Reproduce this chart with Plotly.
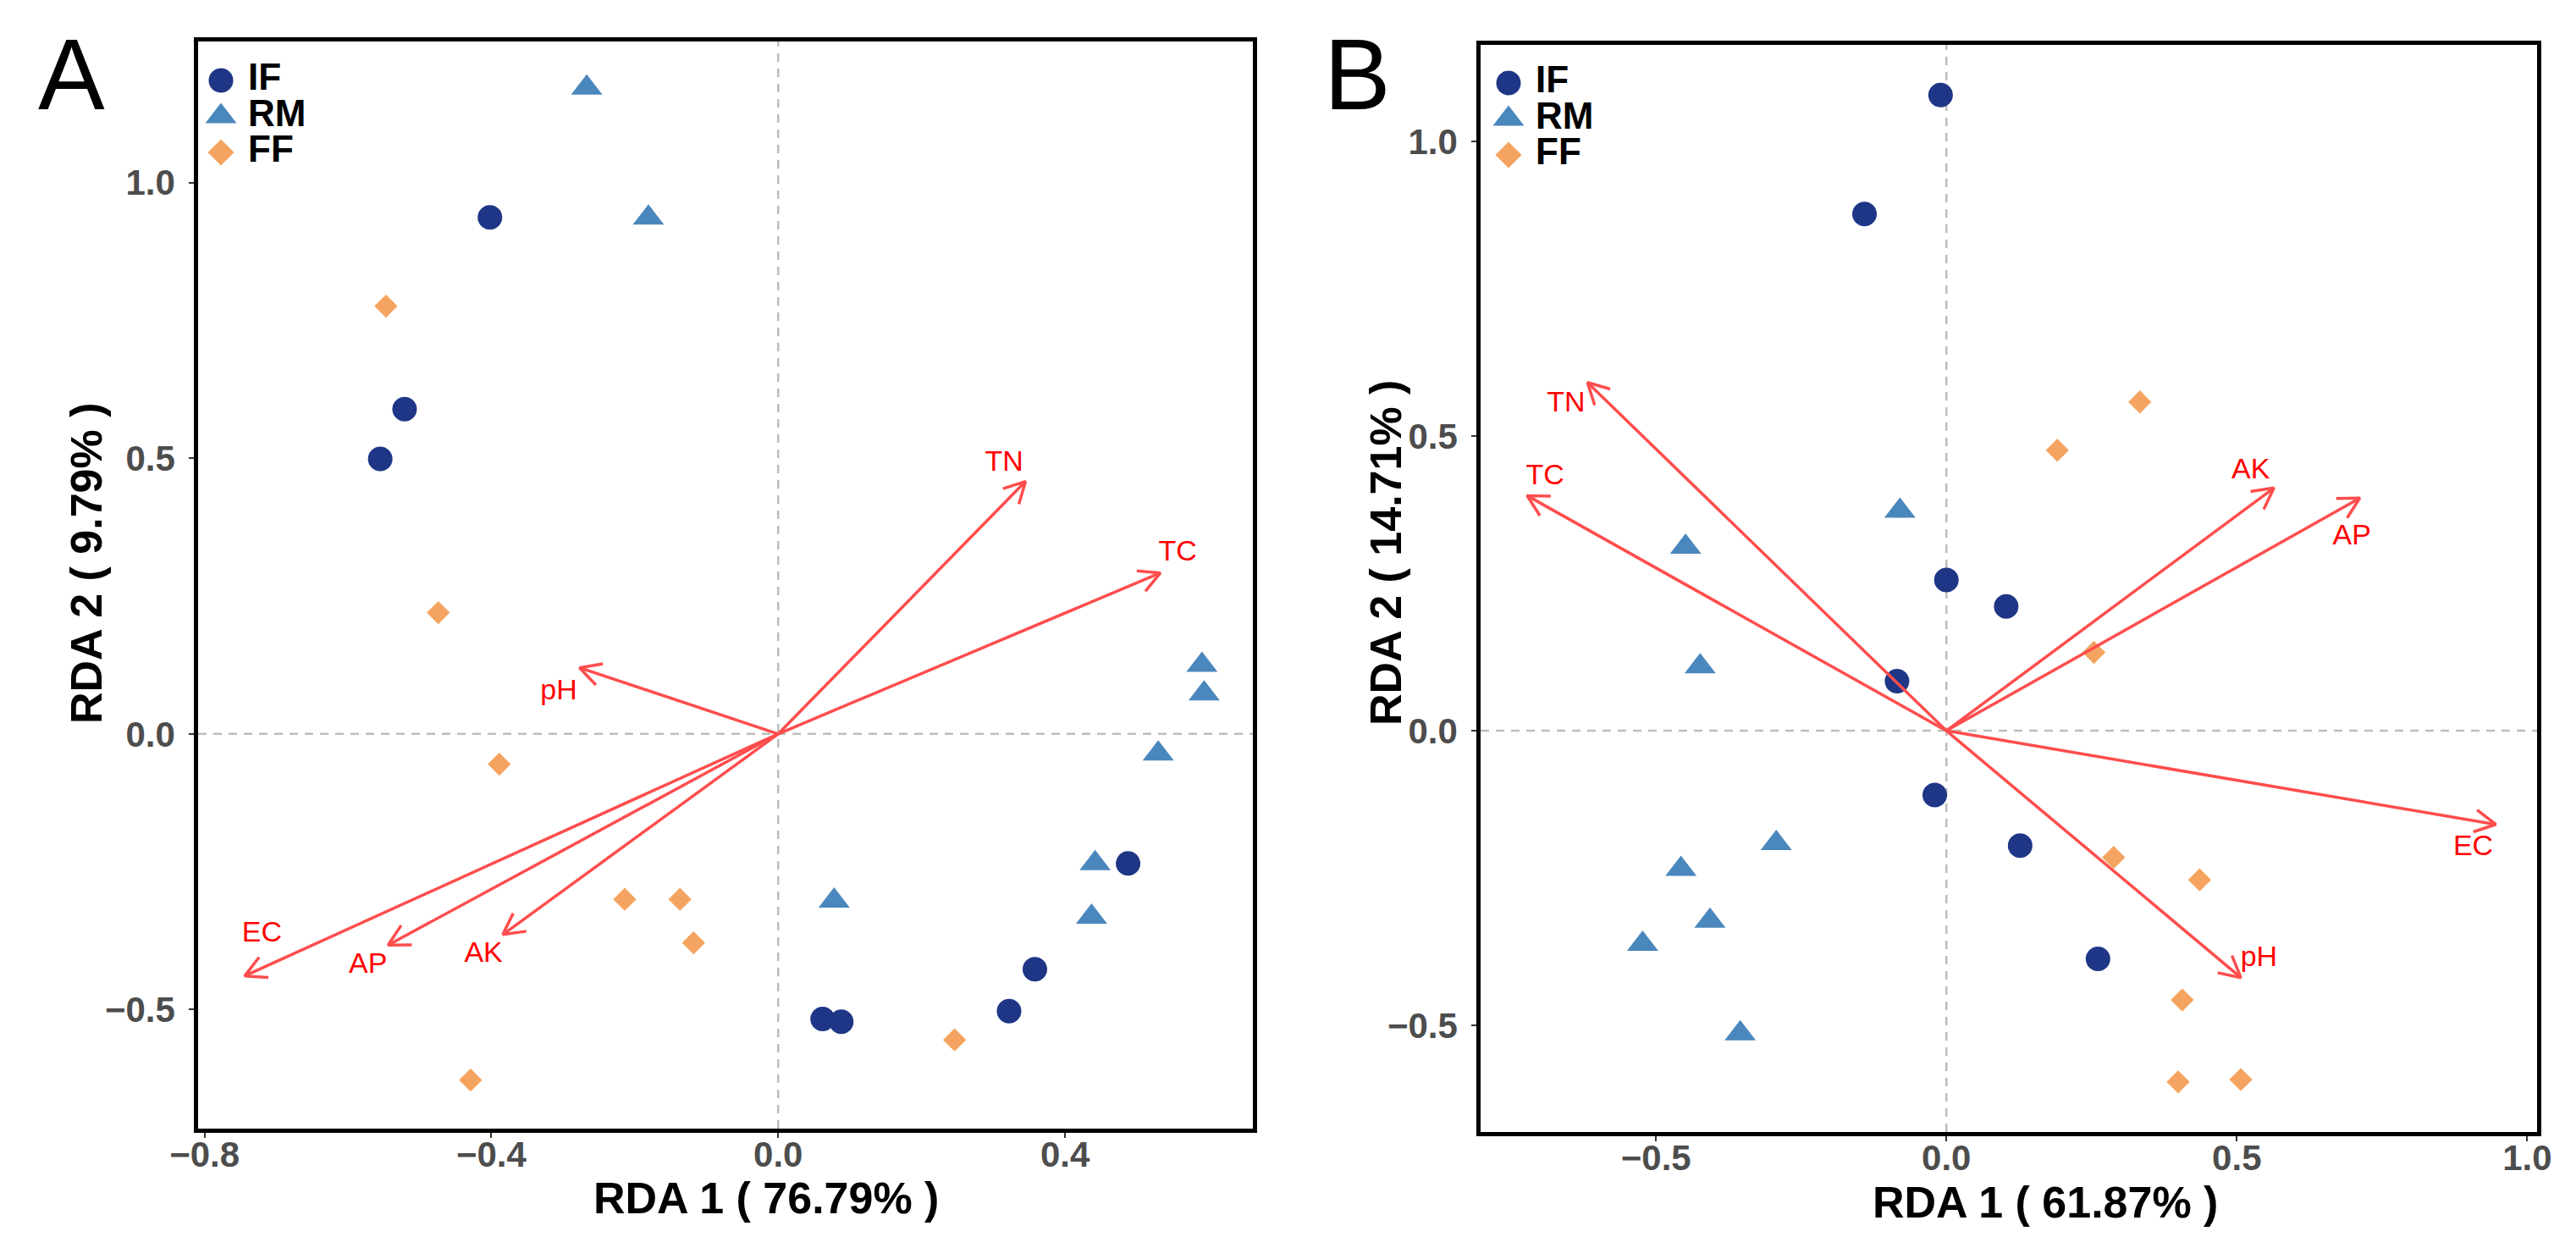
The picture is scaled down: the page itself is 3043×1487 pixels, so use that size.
import plotly.graph_objects as go
import numpy as np

W, H = 3043, 1487

# groups and their look
groups = ["IF", "RM", "FF"]
colors = {"IF": "#1F3687", "RM": "#4A87BD", "FF": "#F4A460"}
symbols = {"IF": "circle", "RM": "triangle-up", "FF": "diamond"}
msize = {"IF": 29, "RM": 32, "FF": 21}

# ---- panel A sample scores
a_if_x = [-0.402, -0.521, -0.555, 0.488, 0.358, 0.322, 0.062, 0.088]
a_if_y = [0.937, 0.589, 0.499, -0.235, -0.427, -0.503, -0.517, -0.522]
a_rm_x = [-0.267, -0.181, 0.591, 0.594, 0.530, 0.442, 0.437, 0.078]
a_rm_y = [1.172, 0.936, 0.125, 0.073, -0.036, -0.235, -0.332, -0.303]
a_ff_x = [-0.547, -0.474, -0.389, -0.214, -0.137, -0.118, -0.429, 0.246]
a_ff_y = [0.776, 0.220, -0.055, -0.300, -0.300, -0.379, -0.628, -0.555]

# panel A environmental vectors (arrow tips) and label spots
a_env = ["TN", "TC", "pH", "EC", "AP", "AK"]
a_env_x = [0.345, 0.533, -0.277, -0.744, -0.544, -0.384]
a_env_y = [0.458, 0.292, 0.120, -0.439, -0.383, -0.364]
a_lab_x = [0.315, 0.557, -0.306, -0.720, -0.572, -0.411]
a_lab_y = [0.491, 0.327, 0.076, -0.364, -0.420, -0.400]

# ---- panel B sample scores
b_if_x = [-0.010, -0.141, 0.000, 0.103, -0.085, -0.020, 0.127, 0.261]
b_if_y = [1.079, 0.877, 0.256, 0.211, 0.084, -0.109, -0.195, -0.387]
b_rm_x = [-0.080, -0.449, -0.424, -0.293, -0.457, -0.407, -0.523, -0.355]
b_rm_y = [0.373, 0.312, 0.109, -0.191, -0.235, -0.323, -0.362, -0.514]
b_ff_x = [0.333, 0.191, 0.254, 0.288, 0.436, 0.406, 0.399, 0.507]
b_ff_y = [0.558, 0.476, 0.133, -0.215, -0.253, -0.457, -0.596, -0.592]

b_env = ["TN", "TC", "AK", "AP", "EC", "pH"]
b_env_x = [-0.618, -0.722, 0.564, 0.712, 0.946, 0.507]
b_env_y = [0.591, 0.399, 0.412, 0.395, -0.159, -0.419]
b_lab_x = [-0.655, -0.691, 0.524, 0.698, 0.907, 0.538]
b_lab_y = [0.554, 0.430, 0.441, 0.329, -0.199, -0.387]

a_xtitle = "RDA 1 ( 76.79% )"
a_ytitle = "RDA 2 ( 9.79% )"
b_xtitle = "RDA 1 ( 61.87% )"
b_ytitle = "RDA 2 ( 14.71% )"

# panel boxes in pixels (left, right, top, bottom) and axis ranges
panels = {
    "A": dict(box=(234, 1480, 49, 1333), xr=[-0.809, 0.662], yr=[-0.716, 1.256],
              xt=[-0.8, -0.4, 0.0, 0.4], yt=[-0.5, 0.0, 0.5, 1.0]),
    "B": dict(box=(1749, 2997, 53, 1337), xr=[-0.802, 1.017], yr=[-0.681, 1.164],
              xt=[-0.5, 0.0, 0.5, 1.0], yt=[-0.5, 0.0, 0.5, 1.0]),
}

FONT = "Liberation Sans"
ARROW = "#FF4D4D"

fig = go.Figure()


def px2paper_x(p):
    return p / W


def px2paper_y(p):
    return 1 - p / H


def add_panel(key, n, scores, env, ex, ey, lx, ly):
    cfg = panels[key]
    l, r, t, b = cfg["box"]
    xa, ya = ("x" if n == 1 else "x%d" % n), ("y" if n == 1 else "y%d" % n)
    # pixels per data unit, used to draw open arrow heads
    sx = (r - l) / (cfg["xr"][1] - cfg["xr"][0])
    sy = (b - t) / (cfg["yr"][1] - cfg["yr"][0])

    for g in groups:
        xs, ys = scores[g]
        fig.add_trace(go.Scatter(x=xs, y=ys, mode="markers", xaxis=xa, yaxis=ya,
                                 marker=dict(symbol=symbols[g], size=msize[g], color=colors[g],
                                             line=dict(width=0)),
                                 showlegend=False, name=g))

    head, ang = 28, np.deg2rad(28)
    for name, tx, ty in zip(env, ex, ey):
        # direction in pixel space
        dx, dy = tx * sx, ty * sy
        th = np.arctan2(dy, dx)
        wx, wy = [], []
        for s in (1, -1):
            a = th + np.pi + s * ang
            wx.append(tx + head * np.cos(a) / sx)
            wy.append(ty + head * np.sin(a) / sy)
        fig.add_trace(go.Scatter(x=[0, tx, None, wx[0], tx, wx[1]],
                                 y=[0, ty, None, wy[0], ty, wy[1]],
                                 mode="lines", xaxis=xa, yaxis=ya,
                                 line=dict(color=ARROW, width=3.5),
                                 showlegend=False, hoverinfo="skip"))
    fig.add_trace(go.Scatter(x=lx, y=ly, text=env, mode="text", xaxis=xa, yaxis=ya,
                             textfont=dict(family=FONT, size=34, color="#FF0000"),
                             showlegend=False, hoverinfo="skip"))

    axis_common = dict(showline=True, linecolor="black", linewidth=4.5, mirror=True,
                       ticks="outside", ticklen=6, tickwidth=2, tickcolor="#333333",
                       showgrid=False, zeroline=False, tickformat=".1f", automargin=False,
                       tickfont=dict(family=FONT, size=42, color="#4D4D4D", weight="bold"))
    fig.update_layout(**{
        ("xaxis" if n == 1 else "xaxis%d" % n): dict(
            domain=[px2paper_x(l), px2paper_x(r)], range=cfg["xr"], tickvals=cfg["xt"],
            anchor=ya, ticklabelstandoff=-16, **axis_common),
        ("yaxis" if n == 1 else "yaxis%d" % n): dict(
            domain=[px2paper_y(b), px2paper_y(t)], range=cfg["yr"], tickvals=cfg["yt"],
            anchor=xa, ticklabelstandoff=8, **axis_common),
    })

    # dashed reference lines through the origin
    fig.add_shape(type="line", xref=xa, yref=ya + " domain", x0=0, x1=0, y0=0, y1=1,
                  line=dict(color="#BDBDBD", width=2.5, dash="10px,8px"), layer="below")
    fig.add_shape(type="line", xref=xa + " domain", yref=ya, x0=0, x1=1, y0=0, y1=0,
                  line=dict(color="#BDBDBD", width=2.5, dash="10px,8px"), layer="below")


add_panel("A", 1, {"IF": (a_if_x, a_if_y), "RM": (a_rm_x, a_rm_y), "FF": (a_ff_x, a_ff_y)},
          a_env, a_env_x, a_env_y, a_lab_x, a_lab_y)
add_panel("B", 2, {"IF": (b_if_x, b_if_y), "RM": (b_rm_x, b_rm_y), "FF": (b_ff_x, b_ff_y)},
          b_env, b_env_x, b_env_y, b_lab_x, b_lab_y)

# legends drawn inside each panel on their own small axes (x in pixels from the key centre)
legend_spots = [(3, 261, 95), (4, 1782, 98)]
step = 42.5
for n, cx, cy in legend_spots:
    xa, ya = "x%d" % n, "y%d" % n
    for g in groups:
        fig.add_trace(go.Scatter(x=[0], y=[g], mode="markers", xaxis=xa, yaxis=ya,
                                 marker=dict(symbol=symbols[g], size=msize[g] if g != "FF" else 24,
                                             color=colors[g]),
                                 showlegend=False, cliponaxis=False, hoverinfo="skip"))
    fig.add_trace(go.Scatter(x=[32] * len(groups), y=groups, text=groups, mode="text",
                             textposition="middle right", xaxis=xa, yaxis=ya,
                             textfont=dict(family=FONT, size=44, color="black", weight="bold"),
                             showlegend=False, cliponaxis=False, hoverinfo="skip"))
    top = cy - step / 2
    fig.update_layout(**{
        "xaxis%d" % n: dict(domain=[px2paper_x(cx - 25), px2paper_x(cx + 125)], range=[-25, 125],
                            visible=False, anchor=ya, automargin=False),
        "yaxis%d" % n: dict(domain=[px2paper_y(top + 3 * step), px2paper_y(top)],
                            range=[2.5, -0.5], type="category", categoryorder="array",
                            categoryarray=groups, visible=False, anchor=xa, automargin=False),
    })

title_font = dict(family=FONT, size=52, color="black", weight="bold")
annos = [
    dict(text=a_xtitle, x=905, y=1415, textangle=0),
    dict(text=b_xtitle, x=2416, y=1420, textangle=0),
    dict(text=a_ytitle, x=102, y=665, textangle=-90),
    dict(text=b_ytitle, x=1637, y=653, textangle=-90),
]
for a in annos:
    fig.add_annotation(text=a["text"], x=px2paper_x(a["x"]), y=px2paper_y(a["y"]),
                       xref="paper", yref="paper", showarrow=False, textangle=a["textangle"],
                       xanchor="center", yanchor="middle", font=title_font)

for letter, x, y in [("A", 84, 88), ("B", 1603, 88)]:
    fig.add_annotation(text=letter, x=px2paper_x(x), y=px2paper_y(y), xref="paper", yref="paper",
                       showarrow=False, xanchor="center", yanchor="middle",
                       font=dict(family=FONT, size=118, color="black"))

fig.update_layout(width=W, height=H, margin=dict(l=0, r=0, t=0, b=0),
                  plot_bgcolor="white", paper_bgcolor="white",
                  font=dict(family=FONT), showlegend=False)

fig.write_html("out.html", config={"displayModeBar": False},
               post_script="document.body.style.margin='0';")
